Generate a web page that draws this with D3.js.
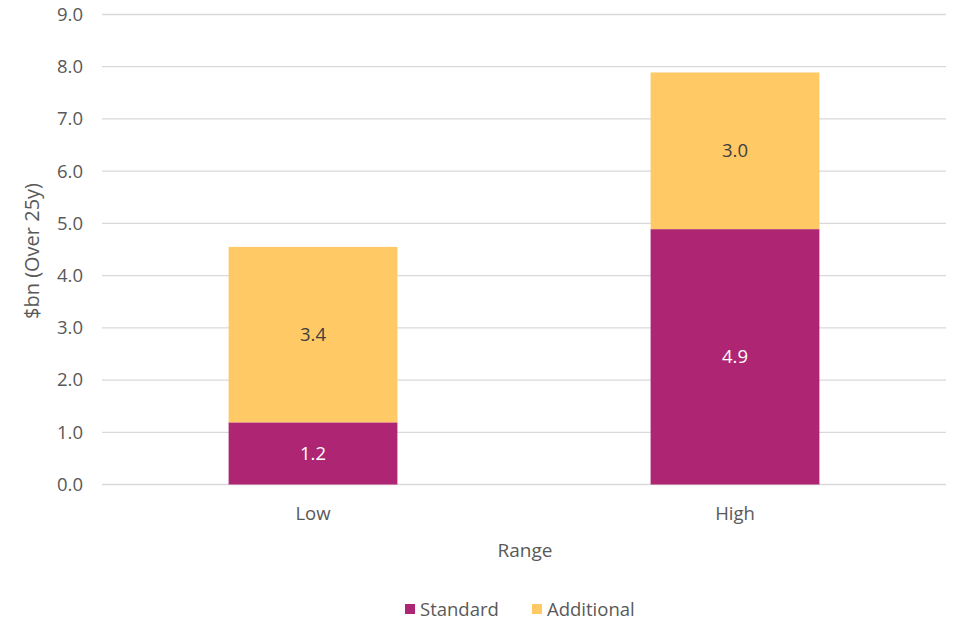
<!DOCTYPE html>
<html><head><meta charset="utf-8">
<script src="https://cdn.jsdelivr.net/npm/d3@7"></script>
<style>body{margin:0;background:#fff}svg{display:block}text{font-family:"Open Sans",sans-serif}</style>
</head><body><svg id="c" width="954" height="621"></svg>
<script>
const categories = ["Low", "High"];
const seriesNames = ["Standard", "Additional"];
const standard = [1.19, 4.89];
const additional = [3.36, 3.0];
const yTicks = [0,1,2,3,4,5,6,7,8,9];
const colors = {Standard: "#AE2573", Additional: "#FFC966"};
const labelColors = {Standard: "#ffffff", Additional: "#404040"};
const FONT = "'Open Sans',sans-serif";
const FS = "18.5px";

const svg = d3.select("#c");
const m = {l: 102, r: 946, t: 14.5, b: 484.5};
const x = d3.scaleBand().domain(categories).range([m.l, m.r]).paddingInner(0.6).paddingOuter(0.3);
const y = d3.scaleLinear().domain([0, 9]).range([m.b, m.t]);

// gridlines
svg.append("g").selectAll("line").data(yTicks).join("line")
  .attr("x1", m.l).attr("x2", m.r)
  .attr("y1", d => y(d)).attr("y2", d => y(d))
  .attr("stroke", "#d9d9d9").attr("stroke-width", 1.3);

// y axis labels
const yAxis = d3.axisLeft(y).tickValues(yTicks).tickFormat(d3.format(".1f")).tickSize(0).tickPadding(19);
const ga = svg.append("g").attr("transform", `translate(${m.l},0)`).call(yAxis);
ga.select(".domain").remove();
ga.selectAll("text").attr("fill", "#595959").style("font-size", FS).style("font-family", FONT);

// x axis labels
const xAxis = d3.axisBottom(x).tickSize(0).tickPadding(22);
const gx = svg.append("g").attr("transform", `translate(0,${m.b})`).call(xAxis);
gx.select(".domain").remove();
gx.selectAll("text").attr("fill", "#595959").style("font-size", FS).style("font-family", FONT);

// stacked data
const rows = categories.map((c, i) => ({cat: c, Standard: standard[i], Additional: additional[i]}));
const stack = d3.stack().keys(seriesNames)(rows);

const g = svg.append("g");
stack.forEach(s => {
  g.selectAll(null).data(s).join("rect")
    .attr("x", d => x(d.data.cat)).attr("width", x.bandwidth())
    .attr("y", d => y(d[1])).attr("height", d => y(d[0]) - y(d[1]))
    .attr("fill", colors[s.key]);
  g.selectAll(null).data(s).join("text")
    .attr("x", d => x(d.data.cat) + x.bandwidth()/2)
    .attr("y", d => (y(d[0]) + y(d[1]))/2)
    .attr("dy", "0.35em").attr("text-anchor", "middle")
    .attr("fill", labelColors[s.key]).style("font-size", FS)
    .text(d => d3.format(".1f")(d[1] - d[0]));
});

// axis titles
svg.append("text").attr("transform", "translate(39,251) rotate(-90)")
  .attr("text-anchor", "middle").attr("fill", "#595959").style("font-size", "20px")
  .text("$bn (Over 25y)");
svg.append("text").attr("x", 525).attr("y", 556.5).attr("text-anchor", "middle")
  .attr("fill", "#595959").style("font-size", "19px").text("Range");

// legend
const leg = svg.append("g");
const legX = [405, 532];
seriesNames.forEach((n, i) => {
  leg.append("rect").attr("x", legX[i]).attr("y", 604).attr("width", 10).attr("height", 10).attr("fill", colors[n]);
  leg.append("text").attr("x", legX[i] + 15).attr("y", 609.5).attr("dy", "0.35em")
    .attr("fill", "#595959").style("font-size", FS).text(n);
});
</script></body></html>
